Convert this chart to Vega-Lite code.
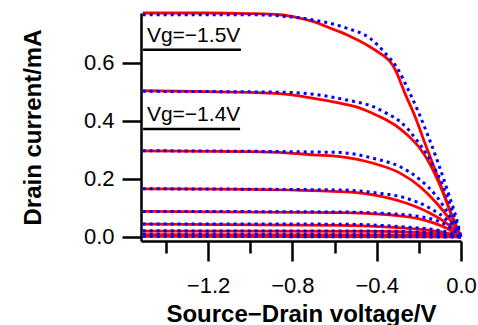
{
  "$schema": "https://vega.github.io/schema/vega-lite/v6.json",
  "autosize": {"type": "none"},
  "padding": {"left": 141, "top": 13, "right": 17, "bottom": 84},
  "width": 320,
  "height": 228,
  "background": "white",
  "config": {
    "view": {"stroke": null},
    "font": "Liberation Sans",
    "axis": {
      "grid": false,
      "domainColor": "black",
      "domainWidth": 2.5,
      "tickColor": "black",
      "tickWidth": 2.5,
      "labelColor": "black",
      "labelFont": "Liberation Sans",
      "labelFontSize": 22,
      "titleFont": "Liberation Sans",
      "titleFontSize": 24,
      "titleFontWeight": "bold",
      "titleColor": "black"
    }
  },
  "datasets": {
    "red": [
      {"vg": -1.5, "v": -1.51, "i": 0.772}, {"vg": -1.5, "v": -1.2, "i": 0.772}, {"vg": -1.5, "v": -1.0, "i": 0.770}, {"vg": -1.5, "v": -0.86, "i": 0.766}, {"vg": -1.5, "v": -0.78, "i": 0.757}, {"vg": -1.5, "v": -0.70, "i": 0.742}, {"vg": -1.5, "v": -0.62, "i": 0.72}, {"vg": -1.5, "v": -0.542, "i": 0.697}, {"vg": -1.5, "v": -0.447, "i": 0.662}, {"vg": -1.5, "v": -0.384, "i": 0.633}, {"vg": -1.5, "v": -0.337, "i": 0.605}, {"vg": -1.5, "v": -0.313, "i": 0.578}, {"vg": -1.5, "v": -0.266, "i": 0.495}, {"vg": -1.5, "v": -0.218, "i": 0.415}, {"vg": -1.5, "v": -0.171, "i": 0.323}, {"vg": -1.5, "v": -0.123, "i": 0.231}, {"vg": -1.5, "v": -0.076, "i": 0.139}, {"vg": -1.5, "v": -0.037, "i": 0.059}, {"vg": -1.5, "v": 0, "i": 0},
      {"vg": -1.4, "v": -1.51, "i": 0.504}, {"vg": -1.4, "v": -1.2, "i": 0.501}, {"vg": -1.4, "v": -0.86, "i": 0.494}, {"vg": -1.4, "v": -0.70, "i": 0.478}, {"vg": -1.4, "v": -0.574, "i": 0.461}, {"vg": -1.4, "v": -0.479, "i": 0.444}, {"vg": -1.4, "v": -0.416, "i": 0.425}, {"vg": -1.4, "v": -0.353, "i": 0.403}, {"vg": -1.4, "v": -0.313, "i": 0.386}, {"vg": -1.4, "v": -0.26, "i": 0.355}, {"vg": -1.4, "v": -0.20, "i": 0.31}, {"vg": -1.4, "v": -0.15, "i": 0.255}, {"vg": -1.4, "v": -0.10, "i": 0.178}, {"vg": -1.4, "v": -0.052, "i": 0.09}, {"vg": -1.4, "v": 0, "i": 0},
      {"vg": -1.3, "v": -1.51, "i": 0.297}, {"vg": -1.3, "v": -1.0, "i": 0.294}, {"vg": -1.3, "v": -0.83, "i": 0.29}, {"vg": -1.3, "v": -0.7, "i": 0.283}, {"vg": -1.3, "v": -0.574, "i": 0.277}, {"vg": -1.3, "v": -0.416, "i": 0.254}, {"vg": -1.3, "v": -0.289, "i": 0.22}, {"vg": -1.3, "v": -0.194, "i": 0.173}, {"vg": -1.3, "v": -0.115, "i": 0.116}, {"vg": -1.3, "v": -0.052, "i": 0.059}, {"vg": -1.3, "v": 0, "i": 0},
      {"vg": -1.2, "v": -1.51, "i": 0.166}, {"vg": -1.2, "v": -1.0, "i": 0.164}, {"vg": -1.2, "v": -0.574, "i": 0.156}, {"vg": -1.2, "v": -0.416, "i": 0.145}, {"vg": -1.2, "v": -0.258, "i": 0.116}, {"vg": -1.2, "v": -0.147, "i": 0.082}, {"vg": -1.2, "v": -0.068, "i": 0.047}, {"vg": -1.2, "v": 0, "i": 0},
      {"vg": -1.1, "v": -1.51, "i": 0.088}, {"vg": -1.1, "v": -0.574, "i": 0.084}, {"vg": -1.1, "v": -0.337, "i": 0.076}, {"vg": -1.1, "v": -0.179, "i": 0.059}, {"vg": -1.1, "v": -0.068, "i": 0.03}, {"vg": -1.1, "v": 0, "i": 0},
      {"vg": -1.0, "v": -1.51, "i": 0.044}, {"vg": -1.0, "v": -0.574, "i": 0.040}, {"vg": -1.0, "v": -0.3, "i": 0.032}, {"vg": -1.0, "v": -0.1, "i": 0.018}, {"vg": -1.0, "v": 0, "i": 0},
      {"vg": -0.9, "v": -1.51, "i": 0.02}, {"vg": -0.9, "v": -0.4, "i": 0.019}, {"vg": -0.9, "v": -0.2, "i": 0.015}, {"vg": -0.9, "v": -0.1, "i": 0.01}, {"vg": -0.9, "v": 0, "i": 0},
      {"vg": -0.8, "v": -1.51, "i": 0.008}, {"vg": -0.8, "v": -0.3, "i": 0.007}, {"vg": -0.8, "v": -0.1, "i": 0.004}, {"vg": -0.8, "v": 0, "i": 0},
      {"vg": -0.7, "v": -1.51, "i": 0.002}, {"vg": -0.7, "v": 0, "i": 0}
    ],
    "blue": [
      {"vg": -1.5, "v": -1.51, "i": 0.766}, {"vg": -1.5, "v": -1.0, "i": 0.766}, {"vg": -1.5, "v": -0.86, "i": 0.762}, {"vg": -1.5, "v": -0.70, "i": 0.748}, {"vg": -1.5, "v": -0.542, "i": 0.72}, {"vg": -1.5, "v": -0.432, "i": 0.685}, {"vg": -1.5, "v": -0.353, "i": 0.628}, {"vg": -1.5, "v": -0.305, "i": 0.585}, {"vg": -1.5, "v": -0.25, "i": 0.507}, {"vg": -1.5, "v": -0.203, "i": 0.432}, {"vg": -1.5, "v": -0.155, "i": 0.346}, {"vg": -1.5, "v": -0.108, "i": 0.254}, {"vg": -1.5, "v": -0.06, "i": 0.151}, {"vg": -1.5, "v": -0.02, "i": 0.059}, {"vg": -1.5, "v": 0, "i": 0},
      {"vg": -1.4, "v": -1.51, "i": 0.502}, {"vg": -1.4, "v": -0.86, "i": 0.499}, {"vg": -1.4, "v": -0.70, "i": 0.492}, {"vg": -1.4, "v": -0.542, "i": 0.472}, {"vg": -1.4, "v": -0.416, "i": 0.449}, {"vg": -1.4, "v": -0.35, "i": 0.425}, {"vg": -1.4, "v": -0.289, "i": 0.398}, {"vg": -1.4, "v": -0.21, "i": 0.334}, {"vg": -1.4, "v": -0.147, "i": 0.266}, {"vg": -1.4, "v": -0.084, "i": 0.173}, {"vg": -1.4, "v": -0.037, "i": 0.082}, {"vg": -1.4, "v": 0, "i": 0},
      {"vg": -1.3, "v": -1.51, "i": 0.297}, {"vg": -1.3, "v": -0.83, "i": 0.294}, {"vg": -1.3, "v": -0.574, "i": 0.291}, {"vg": -1.3, "v": -0.416, "i": 0.271}, {"vg": -1.3, "v": -0.289, "i": 0.242}, {"vg": -1.3, "v": -0.194, "i": 0.197}, {"vg": -1.3, "v": -0.115, "i": 0.139}, {"vg": -1.3, "v": -0.052, "i": 0.07}, {"vg": -1.3, "v": 0, "i": 0},
      {"vg": -1.2, "v": -1.51, "i": 0.166}, {"vg": -1.2, "v": -0.574, "i": 0.162}, {"vg": -1.2, "v": -0.416, "i": 0.153}, {"vg": -1.2, "v": -0.258, "i": 0.133}, {"vg": -1.2, "v": -0.147, "i": 0.099}, {"vg": -1.2, "v": -0.068, "i": 0.059}, {"vg": -1.2, "v": 0, "i": 0},
      {"vg": -1.1, "v": -1.51, "i": 0.088}, {"vg": -1.1, "v": -0.574, "i": 0.086}, {"vg": -1.1, "v": -0.337, "i": 0.080}, {"vg": -1.1, "v": -0.179, "i": 0.068}, {"vg": -1.1, "v": -0.068, "i": 0.04}, {"vg": -1.1, "v": 0, "i": 0},
      {"vg": -1.0, "v": -1.51, "i": 0.045}, {"vg": -1.0, "v": -0.574, "i": 0.044}, {"vg": -1.0, "v": -0.3, "i": 0.036}, {"vg": -1.0, "v": -0.1, "i": 0.022}, {"vg": -1.0, "v": 0, "i": 0},
      {"vg": -0.9, "v": -1.51, "i": 0.021}, {"vg": -0.9, "v": -0.4, "i": 0.020}, {"vg": -0.9, "v": -0.2, "i": 0.017}, {"vg": -0.9, "v": -0.1, "i": 0.012}, {"vg": -0.9, "v": 0, "i": 0},
      {"vg": -0.8, "v": -1.51, "i": 0.009}, {"vg": -0.8, "v": -0.3, "i": 0.008}, {"vg": -0.8, "v": -0.1, "i": 0.005}, {"vg": -0.8, "v": 0, "i": 0},
      {"vg": -0.7, "v": -1.51, "i": 0.002}, {"vg": -0.7, "v": 0, "i": 0}
    ],
    "labels": [
      {"label": "Vg=−1.5V", "v": -1.49, "i": 0.672, "v2": -1.508, "v3": -1.044, "iu": 0.645},
      {"label": "Vg=−1.4V", "v": -1.49, "i": 0.400, "v2": -1.508, "v3": -1.048, "iu": 0.372}
    ]
  },
  "layer": [
    {
      "data": {"name": "red"},
      "mark": {"type": "line", "color": "#ff0000", "strokeWidth": 2.8, "interpolate": "monotone"},
      "encoding": {
        "x": {
          "field": "v", "type": "quantitative",
          "scale": {"domain": [-1.518, 0], "nice": false, "zero": false},
          "axis": {
            "title": "Source−Drain voltage/V",
            "values": [-1.4, -1.2, -1.0, -0.8, -0.6, -0.4, -0.2, 0],
            "format": ".1f",
            "labelExpr": "round(datum.value*10) % 4 == 0 ? datum.label : ''",
            "tickSize": {"condition": {"test": "round(datum.value*10) % 4 != 0", "value": 12}, "value": 20},
            "labelPadding": 14,
            "labelFlush": false,
            "labelOverlap": false,
            "titlePadding": 6
          }
        },
        "y": {
          "field": "i", "type": "quantitative",
          "scale": {"domain": [-0.014, 0.772], "nice": false, "zero": false},
          "axis": {
            "title": "Drain current/mA",
            "values": [0, 0.2, 0.4, 0.6],
            "format": ".1f",
            "tickSize": 19,
            "labelPadding": 8,
            "labelFlush": false,
            "titlePadding": 38
          }
        },
        "detail": {"field": "vg"}
      }
    },
    {
      "data": {"name": "blue"},
      "mark": {"type": "line", "color": "#0000ff", "strokeWidth": 3, "strokeDash": [3, 4], "interpolate": "monotone"},
      "encoding": {
        "x": {"field": "v", "type": "quantitative"},
        "y": {"field": "i", "type": "quantitative"},
        "detail": {"field": "vg"}
      }
    },
    {
      "data": {"name": "labels"},
      "mark": {"type": "text", "align": "left", "baseline": "alphabetic", "fontSize": 21, "color": "black", "font": "Liberation Sans"},
      "encoding": {
        "x": {"field": "v", "type": "quantitative"},
        "y": {"field": "i", "type": "quantitative"},
        "text": {"field": "label"}
      }
    },
    {
      "data": {"name": "labels"},
      "mark": {"type": "rule", "color": "black", "strokeWidth": 2.5},
      "encoding": {
        "x": {"field": "v2", "type": "quantitative"},
        "x2": {"field": "v3"},
        "y": {"field": "iu", "type": "quantitative"}
      }
    }
  ]
}
